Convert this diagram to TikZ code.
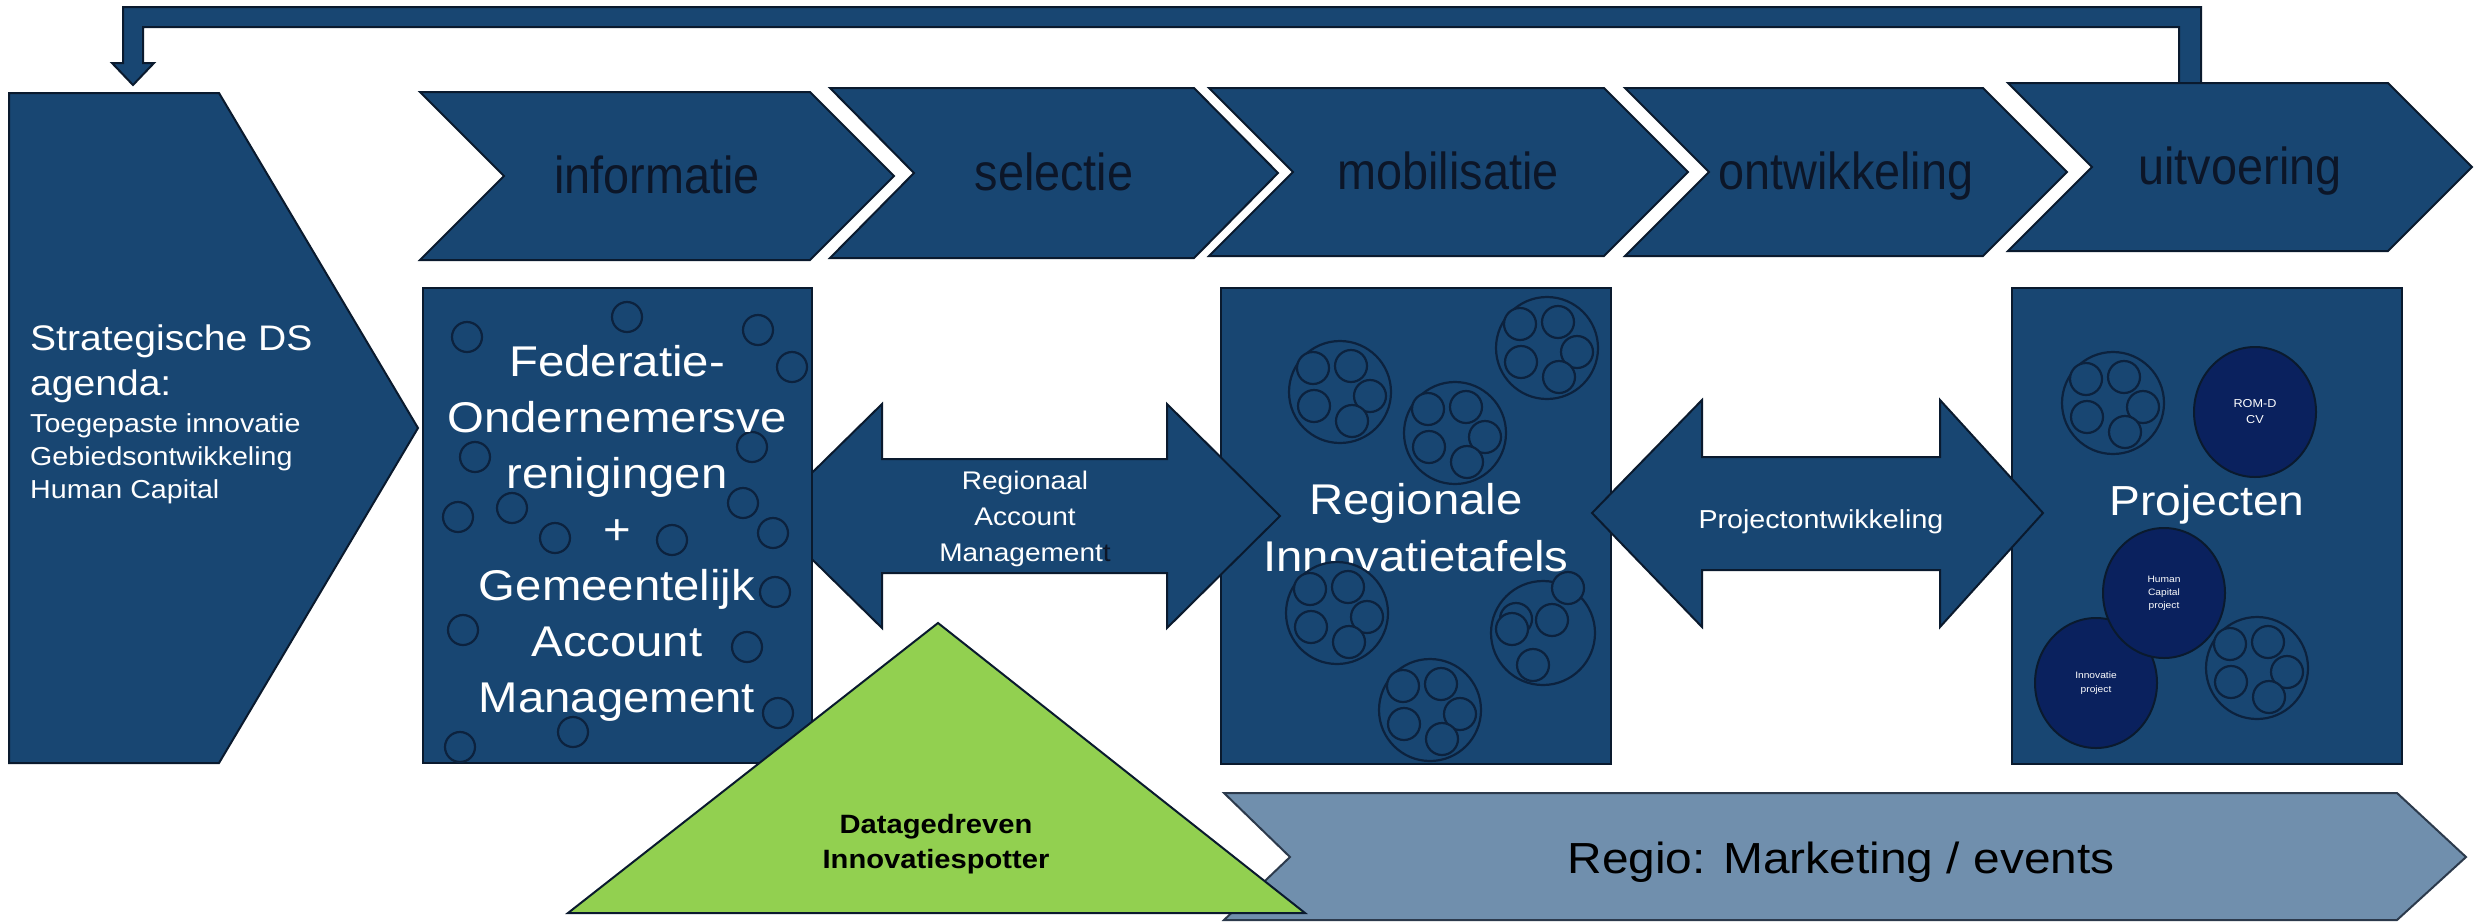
\documentclass[tikz,border=0pt]{standalone}
\usepackage{fontspec}
\setmainfont[FakeStretch=1.1]{Liberation Sans}
\newfontfamily\chevfont[FakeStretch=0.9]{Liberation Sans}
\usetikzlibrary{shapes.geometric}
\definecolor{mainblue}{RGB}{24,70,114}
\definecolor{edgecol}{RGB}{10,26,46}
\definecolor{ringcol}{RGB}{12,34,62}
\definecolor{navyc}{RGB}{10,33,94}
\definecolor{chevtxt}{RGB}{12,22,40}
\definecolor{greentri}{RGB}{146,208,80}
\definecolor{bannerfill}{RGB}{112,143,173}
\definecolor{banneredge}{RGB}{44,58,76}
\newcommand\setfs[2]{\fontsize{#1}{#2}\selectfont}
\newcommand\drawcluster[2]{%
  \path[clus] (#1,#2) circle[radius=51pt];
  \foreach \dx/\dy in {-27/-24, 11/-26, -26/14, 30/4, 12/29}
    \path[clus, shift={(#1,#2)}] (\dx,\dy) circle[radius=16pt];
}
\begin{document}
\begin{tikzpicture}[x=1pt,y=-1pt,
  blk/.style={fill=mainblue, draw=edgecol, line width=2pt, line join=miter},
  chevtext/.style={text=chevtxt, font=\chevfont\setfs{52}{60}, anchor=base, inner sep=0pt},
  wtext/.style={text=white, inner sep=0pt, align=center},
  ring/.style={draw=ringcol, line width=2.2pt},
  clus/.style={fill=mainblue, draw=ringcol, line width=2.2pt},
  navynode/.style={ellipse, fill=navyc, draw=edgecol, line width=2pt, minimum width=122pt, minimum height=130pt, inner sep=0pt, text=white, align=center},
]
\useasboundingbox (0,0) rectangle (2476,922);
\fill[white] (0,0) rectangle (2476,922);

% feedback arrow (uitvoering -> strategische agenda)
\coordinate (fbstart) at (2190,83);
\coordinate (fbend) at (133,85);
\path[blk] (123,7) -- (2201,7) -- (2201,83) -- (2179,83) -- (2179,27) -- (143,27) -- (143,63) -- (154,63) -- (fbend) -- (112,63) -- (123,63) -- cycle;

% strategic agenda pentagon
\path[blk] (9,93) -- (219,93) -- (418,428) -- (219,763) -- (9,763) -- cycle;
\node[wtext, font=\setfs{35.5}{45}, anchor=base west] (sd1) at (30,350) {Strategische DS};
\node[wtext, font=\setfs{35.5}{45}, anchor=base west] (sd2) at (30,395) {agenda:};
\node[wtext, font=\setfs{26}{33}, anchor=base west] (sd3) at (30,432) {Toegepaste innovatie};
\node[wtext, font=\setfs{26}{33}, anchor=base west] (sd4) at (30,465) {Gebiedsontwikkeling};
\node[wtext, font=\setfs{26}{33}, anchor=base west] (sd5) at (30,498) {Human Capital};

% chevrons
\path[blk] (420,92) -- (810,92) -- (894,176) -- (810,260) -- (420,260) -- (504,176) -- cycle;
\node[chevtext] (c1) at (657,193) {informatie};
\path[blk] (830,88) -- (1194,88) -- (1278,173) -- (1194,258) -- (830,258) -- (914,173) -- cycle;
\node[chevtext] (c2) at (1054,190) {selectie};
\path[blk] (1209,88) -- (1604,88) -- (1688,172) -- (1604,256) -- (1209,256) -- (1293,172) -- cycle;
\node[chevtext] (c3) at (1448,189) {mobilisatie};
\path[blk] (1625,88) -- (1983,88) -- (2067,172) -- (1983,256) -- (1625,256) -- (1709,172) -- cycle;
\node[chevtext] (c4) at (1846,189) {ontwikkeling};
\path[blk] (2008,83) -- (2388,83) -- (2472,167) -- (2388,251) -- (2008,251) -- (2092,167) -- cycle;
\node[chevtext] (c5) at (2240,184) {uitvoering};

% Regionale box
\path[blk] (1221,288) rectangle (1611,764);
\node[wtext, font=\setfs{43}{57}] (regtext) at (1416,528) {Regionale\\Innovatietafels};
\drawcluster{1340}{392}
\drawcluster{1455}{433}
\drawcluster{1547}{348}
\drawcluster{1337}{613}
\drawcluster{1430}{710}
\path[clus] (1543,633) circle[radius=52pt];
\foreach \x/\y in {1568/588, 1516/619, 1552/620, 1512/629, 1533/665}
  \path[clus] (\x,\y) circle[radius=16pt];

% double arrow 1
\path[blk] (768,516) -- (882,404) -- (882,459) -- (1167,459) -- (1167,404) -- (1280,516) -- (1167,628) -- (1167,573) -- (882,573) -- (882,628) -- cycle;
\node[wtext, font=\setfs{25.5}{36}] (ramtext) at (1025,519) {Regionaal\\Account\\Management\textcolor{chevtxt}{t}};

% Federatie box
\path[blk] (423,288) rectangle (812,763);
\foreach \x/\y in {627/317, 467/337, 758/330, 792/367, 752/447, 475/457, 743/503, 458/517, 512/508, 555/538, 672/540, 773/533, 775/592, 463/630, 747/647, 778/713, 573/732, 460/747}
  \draw[ring] (\x,\y) circle[radius=15pt];
\node[wtext, font=\setfs{43}{56}] (fedtext) at (617,533) {Federatie-\\Ondernemersve\\renigingen\\+\\Gemeentelijk\\Account\\Management};

% Projecten box
\path[blk] (2012,288) rectangle (2402,764);
\drawcluster{2113}{403}
\drawcluster{2257}{668}
\node[navynode, font=\setfs{11.5}{16}] (romd) at (2255,412) {ROM-D\\CV};
\node[wtext, font=\setfs{42}{50}, anchor=base] (projtext) at (2207,515) {Projecten};
\node[navynode, font=\setfs{9.3}{13.3}] (innov) at (2096,683) {Innovatie\\project};
\node[navynode, font=\setfs{9.3}{12.8}] (human) at (2164,593) {Human\\Capital\\project};

% double arrow 2
\path[blk] (1592,513) -- (1702,400) -- (1702,457) -- (1940,457) -- (1940,400) -- (2043,513) -- (1940,627) -- (1940,570) -- (1702,570) -- (1702,627) -- cycle;
\node[wtext, font=\setfs{26}{30}, anchor=base] (pttext) at (1821,528) {Projectontwikkeling};

% banner
\path[fill=bannerfill, draw=banneredge, line width=2pt] (1224,793) -- (2397,793) -- (2466,857) -- (2397,920) -- (1224,920) -- (1290,857) -- cycle;
\node[font=\setfs{43.5}{50}, anchor=base, inner sep=0pt] (regio) at (1841,873) {Regio: Marketing / events};

% triangle
\path[fill=greentri, draw=edgecol, line width=2pt] (938,623) -- (1305,913) -- (568,913) -- cycle;
\node[font=\bfseries\setfs{26.5}{35}, align=center, inner sep=0pt] (dtext) at (936,844) {Datagedreven\\Innovatiespotter};
\end{tikzpicture}
\end{document}
